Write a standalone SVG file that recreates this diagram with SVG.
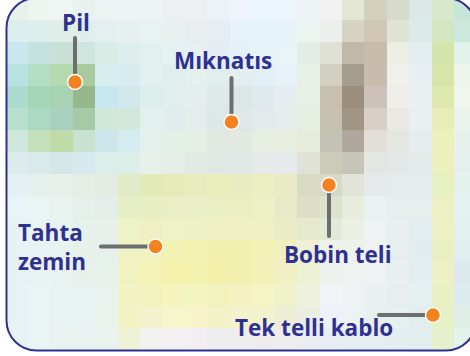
<svg xmlns="http://www.w3.org/2000/svg" width="470" height="356" viewBox="0 0 470 356">
<defs>
<clipPath id="frameClip"><rect x="6.5" y="-2" width="469.5" height="352.5" rx="30" ry="30"/></clipPath>
<style>
.lbl{font-family:"Open Sans","Liberation Sans",sans-serif;font-weight:700;font-size:22.5px;fill:#2e3192}
.lead{stroke:#6d6e70;stroke-width:4;stroke-linecap:round;fill:none}
.dot{fill:#f58220;stroke:#ffffff;stroke-width:1.5}
</style>
</defs>
<rect width="470" height="356" fill="#ffffff"/>
<g id="mosaic" clip-path="url(#frameClip)">
<g transform="translate(5.5,-2) scale(22.43,22)" shape-rendering="crispEdges">
<rect x="0" y="0" width="1" height="1" fill="#e6f2ea"/><rect x="1" y="0" width="1" height="1" fill="#ecf5f0"/><rect x="2" y="0" width="1" height="1" fill="#eef5f2"/><rect x="3" y="0" width="1" height="1" fill="#e8f3f0"/><rect x="4" y="0" width="1" height="1" fill="#ebf4f2"/><rect x="5" y="0" width="1" height="1" fill="#eef4f4"/><rect x="6" y="0" width="1" height="1" fill="#eef3f4"/><rect x="7" y="0" width="1" height="1" fill="#ecf0f2"/><rect x="8" y="0" width="1" height="1" fill="#eeeff2"/><rect x="9" y="0" width="1" height="1" fill="#ecf2f6"/><rect x="10" y="0" width="1" height="1" fill="#eef6fc"/><rect x="11" y="0" width="1" height="1" fill="#eaf6fc"/><rect x="12" y="0" width="1" height="1" fill="#ecf6fa"/><rect x="13" y="0" width="1" height="1" fill="#eef4f6"/><rect x="14" y="0" width="1" height="1" fill="#f2f2f2"/><rect x="15" y="0" width="1" height="1" fill="#e4e6d6"/><rect x="16" y="0" width="1" height="1" fill="#d4d0bc"/><rect x="17" y="0" width="1" height="1" fill="#d8dacc"/><rect x="18" y="0" width="1" height="1" fill="#dce8e6"/><rect x="19" y="0" width="1" height="1" fill="#d8e8cc"/><rect x="20" y="0" width="1" height="1" fill="#c8e6d8"/>
<rect x="0" y="1" width="1" height="1" fill="#dcefee"/><rect x="1" y="1" width="1" height="1" fill="#dcefec"/><rect x="2" y="1" width="1" height="1" fill="#e0eeea"/><rect x="3" y="1" width="1" height="1" fill="#e0eeeb"/><rect x="4" y="1" width="1" height="1" fill="#e4f0ee"/><rect x="5" y="1" width="1" height="1" fill="#e6f1ef"/><rect x="6" y="1" width="1" height="1" fill="#e8f2f0"/><rect x="7" y="1" width="1" height="1" fill="#e8f0f0"/><rect x="8" y="1" width="1" height="1" fill="#e8eef0"/><rect x="9" y="1" width="1" height="1" fill="#e6eef4"/><rect x="10" y="1" width="1" height="1" fill="#e6f4fa"/><rect x="11" y="1" width="1" height="1" fill="#e6f4fa"/><rect x="12" y="1" width="1" height="1" fill="#e6f4fa"/><rect x="13" y="1" width="1" height="1" fill="#ecf4f2"/><rect x="14" y="1" width="1" height="1" fill="#ecf0ec"/><rect x="15" y="1" width="1" height="1" fill="#d8d4c4"/><rect x="16" y="1" width="1" height="1" fill="#d0c8b4"/><rect x="17" y="1" width="1" height="1" fill="#e0e2d4"/><rect x="18" y="1" width="1" height="1" fill="#ddeaea"/><rect x="19" y="1" width="1" height="1" fill="#d4e6c0"/><rect x="20" y="1" width="1" height="1" fill="#cce8dc"/>
<rect x="0" y="2" width="1" height="1" fill="#cae6ee"/><rect x="1" y="2" width="1" height="1" fill="#c4e2e0"/><rect x="2" y="2" width="1" height="1" fill="#c8e0d6"/><rect x="3" y="2" width="1" height="1" fill="#cfe6df"/><rect x="4" y="2" width="1" height="1" fill="#d9ede6"/><rect x="5" y="2" width="1" height="1" fill="#dcefec"/><rect x="6" y="2" width="1" height="1" fill="#e2f0f0"/><rect x="7" y="2" width="1" height="1" fill="#e4f2f4"/><rect x="8" y="2" width="1" height="1" fill="#e6f0f2"/><rect x="9" y="2" width="1" height="1" fill="#e4eef2"/><rect x="10" y="2" width="1" height="1" fill="#e4f2f8"/><rect x="11" y="2" width="1" height="1" fill="#e6f4f8"/><rect x="12" y="2" width="1" height="1" fill="#e8f4f8"/><rect x="13" y="2" width="1" height="1" fill="#e4ece8"/><rect x="14" y="2" width="1" height="1" fill="#e0e0d6"/><rect x="15" y="2" width="1" height="1" fill="#c2b8a8"/><rect x="16" y="2" width="1" height="1" fill="#c8bcaa"/><rect x="17" y="2" width="1" height="1" fill="#eceee4"/><rect x="18" y="2" width="1" height="1" fill="#e4eef0"/><rect x="19" y="2" width="1" height="1" fill="#d4e4aa"/><rect x="20" y="2" width="1" height="1" fill="#e2f2ec"/>
<rect x="0" y="3" width="1" height="1" fill="#b8e2e0"/><rect x="1" y="3" width="1" height="1" fill="#b4ddc5"/><rect x="2" y="3" width="1" height="1" fill="#b5dab0"/><rect x="3" y="3" width="1" height="1" fill="#aacb9f"/><rect x="4" y="3" width="1" height="1" fill="#d6eeee"/><rect x="5" y="3" width="1" height="1" fill="#d6ecee"/><rect x="6" y="3" width="1" height="1" fill="#e2f0f0"/><rect x="7" y="3" width="1" height="1" fill="#e0eeee"/><rect x="8" y="3" width="1" height="1" fill="#e4f0ee"/><rect x="9" y="3" width="1" height="1" fill="#e0eeee"/><rect x="10" y="3" width="1" height="1" fill="#e4eef0"/><rect x="11" y="3" width="1" height="1" fill="#e2eff6"/><rect x="12" y="3" width="1" height="1" fill="#e6f2f8"/><rect x="13" y="3" width="1" height="1" fill="#e6f0e6"/><rect x="14" y="3" width="1" height="1" fill="#d2d0c0"/><rect x="15" y="3" width="1" height="1" fill="#a69e8c"/><rect x="16" y="3" width="1" height="1" fill="#c8bcac"/><rect x="17" y="3" width="1" height="1" fill="#f0f0ea"/><rect x="18" y="3" width="1" height="1" fill="#e8eef2"/><rect x="19" y="3" width="1" height="1" fill="#d8e4aa"/><rect x="20" y="3" width="1" height="1" fill="#ecf4ec"/>
<rect x="0" y="4" width="1" height="1" fill="#acdbcf"/><rect x="1" y="4" width="1" height="1" fill="#a6d6b8"/><rect x="2" y="4" width="1" height="1" fill="#a8d3b2"/><rect x="3" y="4" width="1" height="1" fill="#97b78d"/><rect x="4" y="4" width="1" height="1" fill="#c6e6f0"/><rect x="5" y="4" width="1" height="1" fill="#d0e8ec"/><rect x="6" y="4" width="1" height="1" fill="#dceeec"/><rect x="7" y="4" width="1" height="1" fill="#e0eeec"/><rect x="8" y="4" width="1" height="1" fill="#e4eeec"/><rect x="9" y="4" width="1" height="1" fill="#dfeae8"/><rect x="10" y="4" width="1" height="1" fill="#dce6e6"/><rect x="11" y="4" width="1" height="1" fill="#e0eaec"/><rect x="12" y="4" width="1" height="1" fill="#e4eef0"/><rect x="13" y="4" width="1" height="1" fill="#e6f0e4"/><rect x="14" y="4" width="1" height="1" fill="#c6c0ac"/><rect x="15" y="4" width="1" height="1" fill="#9c8e7c"/><rect x="16" y="4" width="1" height="1" fill="#ccc2ba"/><rect x="17" y="4" width="1" height="1" fill="#f0eeea"/><rect x="18" y="4" width="1" height="1" fill="#eaf0f2"/><rect x="19" y="4" width="1" height="1" fill="#dfe8ae"/><rect x="20" y="4" width="1" height="1" fill="#f0f6ec"/>
<rect x="0" y="5" width="1" height="1" fill="#b8e0cf"/><rect x="1" y="5" width="1" height="1" fill="#acd9c4"/><rect x="2" y="5" width="1" height="1" fill="#a9cfbf"/><rect x="3" y="5" width="1" height="1" fill="#a6c9a6"/><rect x="4" y="5" width="1" height="1" fill="#d0e8d8"/><rect x="5" y="5" width="1" height="1" fill="#d2e8dc"/><rect x="6" y="5" width="1" height="1" fill="#e2f0ee"/><rect x="7" y="5" width="1" height="1" fill="#e0ecec"/><rect x="8" y="5" width="1" height="1" fill="#e4ecec"/><rect x="9" y="5" width="1" height="1" fill="#dde8e6"/><rect x="10" y="5" width="1" height="1" fill="#dfe8e8"/><rect x="11" y="5" width="1" height="1" fill="#e4eaec"/><rect x="12" y="5" width="1" height="1" fill="#e4ecec"/><rect x="13" y="5" width="1" height="1" fill="#e6f0e2"/><rect x="14" y="5" width="1" height="1" fill="#c6c0ae"/><rect x="15" y="5" width="1" height="1" fill="#a09482"/><rect x="16" y="5" width="1" height="1" fill="#d8d0c6"/><rect x="17" y="5" width="1" height="1" fill="#eae8e4"/><rect x="18" y="5" width="1" height="1" fill="#eaf0f2"/><rect x="19" y="5" width="1" height="1" fill="#e8ecb8"/><rect x="20" y="5" width="1" height="1" fill="#eaf4ec"/>
<rect x="0" y="6" width="1" height="1" fill="#cfe8dc"/><rect x="1" y="6" width="1" height="1" fill="#c5e1bc"/><rect x="2" y="6" width="1" height="1" fill="#bfdca8"/><rect x="3" y="6" width="1" height="1" fill="#c8e2d0"/><rect x="4" y="6" width="1" height="1" fill="#cde6ec"/><rect x="5" y="6" width="1" height="1" fill="#d4ecef"/><rect x="6" y="6" width="1" height="1" fill="#e4f0ec"/><rect x="7" y="6" width="1" height="1" fill="#e2f0e6"/><rect x="8" y="6" width="1" height="1" fill="#e4eee2"/><rect x="9" y="6" width="1" height="1" fill="#e0e8e0"/><rect x="10" y="6" width="1" height="1" fill="#e2e8e2"/><rect x="11" y="6" width="1" height="1" fill="#e6eee2"/><rect x="12" y="6" width="1" height="1" fill="#e8eee0"/><rect x="13" y="6" width="1" height="1" fill="#e6ecdc"/><rect x="14" y="6" width="1" height="1" fill="#c4c2b4"/><rect x="15" y="6" width="1" height="1" fill="#b0a89c"/><rect x="16" y="6" width="1" height="1" fill="#e2dfd8"/><rect x="17" y="6" width="1" height="1" fill="#e4e6e0"/><rect x="18" y="6" width="1" height="1" fill="#e6eced"/><rect x="19" y="6" width="1" height="1" fill="#ecf0bc"/><rect x="20" y="6" width="1" height="1" fill="#e6f0ec"/>
<rect x="0" y="7" width="1" height="1" fill="#dcecec"/><rect x="1" y="7" width="1" height="1" fill="#d8eaea"/><rect x="2" y="7" width="1" height="1" fill="#d4e6e8"/><rect x="3" y="7" width="1" height="1" fill="#d6eaee"/><rect x="4" y="7" width="1" height="1" fill="#dceeea"/><rect x="5" y="7" width="1" height="1" fill="#dceee8"/><rect x="6" y="7" width="1" height="1" fill="#e6efe8"/><rect x="7" y="7" width="1" height="1" fill="#e6eee8"/><rect x="8" y="7" width="1" height="1" fill="#e2eae4"/><rect x="9" y="7" width="1" height="1" fill="#e2e8e4"/><rect x="10" y="7" width="1" height="1" fill="#e2e8e6"/><rect x="11" y="7" width="1" height="1" fill="#e6eaea"/><rect x="12" y="7" width="1" height="1" fill="#e6eaea"/><rect x="13" y="7" width="1" height="1" fill="#e0e2d8"/><rect x="14" y="7" width="1" height="1" fill="#cccab8"/><rect x="15" y="7" width="1" height="1" fill="#c8c4b8"/><rect x="16" y="7" width="1" height="1" fill="#e4e6e2"/><rect x="17" y="7" width="1" height="1" fill="#e4e8e6"/><rect x="18" y="7" width="1" height="1" fill="#e4eaea"/><rect x="19" y="7" width="1" height="1" fill="#ecf0bc"/><rect x="20" y="7" width="1" height="1" fill="#e4f0ee"/>
<rect x="0" y="8" width="1" height="1" fill="#e4f0f4"/><rect x="1" y="8" width="1" height="1" fill="#e4f0ec"/><rect x="2" y="8" width="1" height="1" fill="#e6f0e8"/><rect x="3" y="8" width="1" height="1" fill="#e4eee4"/><rect x="4" y="8" width="1" height="1" fill="#e2ece0"/><rect x="5" y="8" width="1" height="1" fill="#e2eac8"/><rect x="6" y="8" width="1" height="1" fill="#e2eab8"/><rect x="7" y="8" width="1" height="1" fill="#e4eab8"/><rect x="8" y="8" width="1" height="1" fill="#e6ecbc"/><rect x="9" y="8" width="1" height="1" fill="#e8eebc"/><rect x="10" y="8" width="1" height="1" fill="#e8ecc0"/><rect x="11" y="8" width="1" height="1" fill="#eaeec0"/><rect x="12" y="8" width="1" height="1" fill="#e8eac6"/><rect x="13" y="8" width="1" height="1" fill="#d8dac4"/><rect x="14" y="8" width="1" height="1" fill="#d8d8c8"/><rect x="15" y="8" width="1" height="1" fill="#e2e4da"/><rect x="16" y="8" width="1" height="1" fill="#e6eaea"/><rect x="17" y="8" width="1" height="1" fill="#e6ecee"/><rect x="18" y="8" width="1" height="1" fill="#e4ecee"/><rect x="19" y="8" width="1" height="1" fill="#e6f0c0"/><rect x="20" y="8" width="1" height="1" fill="#e4f2ee"/>
<rect x="0" y="9" width="1" height="1" fill="#e8f4f6"/><rect x="1" y="9" width="1" height="1" fill="#eaf4f4"/><rect x="2" y="9" width="1" height="1" fill="#e8f2ee"/><rect x="3" y="9" width="1" height="1" fill="#e6f0ea"/><rect x="4" y="9" width="1" height="1" fill="#e4eee8"/><rect x="5" y="9" width="1" height="1" fill="#e6eec8"/><rect x="6" y="9" width="1" height="1" fill="#e8eec4"/><rect x="7" y="9" width="1" height="1" fill="#eaeec4"/><rect x="8" y="9" width="1" height="1" fill="#eaeec8"/><rect x="9" y="9" width="1" height="1" fill="#eaeec4"/><rect x="10" y="9" width="1" height="1" fill="#eaeec0"/><rect x="11" y="9" width="1" height="1" fill="#ecf0c4"/><rect x="12" y="9" width="1" height="1" fill="#e6eac8"/><rect x="13" y="9" width="1" height="1" fill="#dcdec8"/><rect x="14" y="9" width="1" height="1" fill="#dee2cc"/><rect x="15" y="9" width="1" height="1" fill="#e8ecdc"/><rect x="16" y="9" width="1" height="1" fill="#ebf0f0"/><rect x="17" y="9" width="1" height="1" fill="#e8eeee"/><rect x="18" y="9" width="1" height="1" fill="#e6eeee"/><rect x="19" y="9" width="1" height="1" fill="#ecf0c4"/><rect x="20" y="9" width="1" height="1" fill="#e4f2f0"/>
<rect x="0" y="10" width="1" height="1" fill="#e6f2f4"/><rect x="1" y="10" width="1" height="1" fill="#eaf4f4"/><rect x="2" y="10" width="1" height="1" fill="#e8f2f0"/><rect x="3" y="10" width="1" height="1" fill="#e6f0ec"/><rect x="4" y="10" width="1" height="1" fill="#e8f0ea"/><rect x="5" y="10" width="1" height="1" fill="#eef2c8"/><rect x="6" y="10" width="1" height="1" fill="#eef0c4"/><rect x="7" y="10" width="1" height="1" fill="#eef2c6"/><rect x="8" y="10" width="1" height="1" fill="#eef0c6"/><rect x="9" y="10" width="1" height="1" fill="#eef0c4"/><rect x="10" y="10" width="1" height="1" fill="#eef0c2"/><rect x="11" y="10" width="1" height="1" fill="#eef0c4"/><rect x="12" y="10" width="1" height="1" fill="#eaecc8"/><rect x="13" y="10" width="1" height="1" fill="#e6eacc"/><rect x="14" y="10" width="1" height="1" fill="#e4ead8"/><rect x="15" y="10" width="1" height="1" fill="#ecf0e4"/><rect x="16" y="10" width="1" height="1" fill="#eef2f2"/><rect x="17" y="10" width="1" height="1" fill="#e8eff0"/><rect x="18" y="10" width="1" height="1" fill="#e4eef0"/><rect x="19" y="10" width="1" height="1" fill="#ecf0c4"/><rect x="20" y="10" width="1" height="1" fill="#e2f0f0"/>
<rect x="0" y="11" width="1" height="1" fill="#e6f2f4"/><rect x="1" y="11" width="1" height="1" fill="#e8f2f2"/><rect x="2" y="11" width="1" height="1" fill="#e8f2f0"/><rect x="3" y="11" width="1" height="1" fill="#e8f0ea"/><rect x="4" y="11" width="1" height="1" fill="#e6f0ec"/><rect x="5" y="11" width="1" height="1" fill="#f0f2c4"/><rect x="6" y="11" width="1" height="1" fill="#f0f2c0"/><rect x="7" y="11" width="1" height="1" fill="#f2f2b4"/><rect x="8" y="11" width="1" height="1" fill="#f2f2b2"/><rect x="9" y="11" width="1" height="1" fill="#f2f0ae"/><rect x="10" y="11" width="1" height="1" fill="#f2f0ae"/><rect x="11" y="11" width="1" height="1" fill="#f2f2b6"/><rect x="12" y="11" width="1" height="1" fill="#eef0c0"/><rect x="13" y="11" width="1" height="1" fill="#eef0d4"/><rect x="14" y="11" width="1" height="1" fill="#eef2e8"/><rect x="15" y="11" width="1" height="1" fill="#eef2ec"/><rect x="16" y="11" width="1" height="1" fill="#eef2f2"/><rect x="17" y="11" width="1" height="1" fill="#e6eeee"/><rect x="18" y="11" width="1" height="1" fill="#e2ecee"/><rect x="19" y="11" width="1" height="1" fill="#eaf0c4"/><rect x="20" y="11" width="1" height="1" fill="#e0eef0"/>
<rect x="0" y="12" width="1" height="1" fill="#e6f2f4"/><rect x="1" y="12" width="1" height="1" fill="#e8f2f2"/><rect x="2" y="12" width="1" height="1" fill="#e8f2f0"/><rect x="3" y="12" width="1" height="1" fill="#e8f0ec"/><rect x="4" y="12" width="1" height="1" fill="#e8f2ec"/><rect x="5" y="12" width="1" height="1" fill="#f2f2c0"/><rect x="6" y="12" width="1" height="1" fill="#f4f2b4"/><rect x="7" y="12" width="1" height="1" fill="#f4f2ac"/><rect x="8" y="12" width="1" height="1" fill="#f2f2ae"/><rect x="9" y="12" width="1" height="1" fill="#f2f0aa"/><rect x="10" y="12" width="1" height="1" fill="#f2f0ae"/><rect x="11" y="12" width="1" height="1" fill="#f2f2b8"/><rect x="12" y="12" width="1" height="1" fill="#f0f0c4"/><rect x="13" y="12" width="1" height="1" fill="#eef2d4"/><rect x="14" y="12" width="1" height="1" fill="#eef2ee"/><rect x="15" y="12" width="1" height="1" fill="#eef2f0"/><rect x="16" y="12" width="1" height="1" fill="#eef2f2"/><rect x="17" y="12" width="1" height="1" fill="#e8eff0"/><rect x="18" y="12" width="1" height="1" fill="#e4edef"/><rect x="19" y="12" width="1" height="1" fill="#ecf0c4"/><rect x="20" y="12" width="1" height="1" fill="#dceaee"/>
<rect x="0" y="13" width="1" height="1" fill="#e6f2f4"/><rect x="1" y="13" width="1" height="1" fill="#eaf4f4"/><rect x="2" y="13" width="1" height="1" fill="#e8f2f0"/><rect x="3" y="13" width="1" height="1" fill="#e8f2f0"/><rect x="4" y="13" width="1" height="1" fill="#eaf2ee"/><rect x="5" y="13" width="1" height="1" fill="#f2f2c4"/><rect x="6" y="13" width="1" height="1" fill="#f2f2bc"/><rect x="7" y="13" width="1" height="1" fill="#f4f4bc"/><rect x="8" y="13" width="1" height="1" fill="#f4f4c0"/><rect x="9" y="13" width="1" height="1" fill="#f2f2bc"/><rect x="10" y="13" width="1" height="1" fill="#f4f2c0"/><rect x="11" y="13" width="1" height="1" fill="#f4f4c4"/><rect x="12" y="13" width="1" height="1" fill="#f0f2cc"/><rect x="13" y="13" width="1" height="1" fill="#eef2dc"/><rect x="14" y="13" width="1" height="1" fill="#f0f4f6"/><rect x="15" y="13" width="1" height="1" fill="#eef2f4"/><rect x="16" y="13" width="1" height="1" fill="#e8f0f0"/><rect x="17" y="13" width="1" height="1" fill="#e6eeee"/><rect x="18" y="13" width="1" height="1" fill="#e6f0f0"/><rect x="19" y="13" width="1" height="1" fill="#e8f0c4"/><rect x="20" y="13" width="1" height="1" fill="#dcecee"/>
<rect x="0" y="14" width="1" height="1" fill="#e6f2f4"/><rect x="1" y="14" width="1" height="1" fill="#eaf4f4"/><rect x="2" y="14" width="1" height="1" fill="#e8f2f0"/><rect x="3" y="14" width="1" height="1" fill="#e8f2f0"/><rect x="4" y="14" width="1" height="1" fill="#eaf2ec"/><rect x="5" y="14" width="1" height="1" fill="#f2f2c4"/><rect x="6" y="14" width="1" height="1" fill="#f4f2cc"/><rect x="7" y="14" width="1" height="1" fill="#f6f6cc"/><rect x="8" y="14" width="1" height="1" fill="#f6f4c8"/><rect x="9" y="14" width="1" height="1" fill="#f2f2c6"/><rect x="10" y="14" width="1" height="1" fill="#f2f2cc"/><rect x="11" y="14" width="1" height="1" fill="#f2f2cc"/><rect x="12" y="14" width="1" height="1" fill="#eeeed6"/><rect x="13" y="14" width="1" height="1" fill="#eaeee2"/><rect x="14" y="14" width="1" height="1" fill="#eef2f8"/><rect x="15" y="14" width="1" height="1" fill="#eef2f4"/><rect x="16" y="14" width="1" height="1" fill="#e8f0ee"/><rect x="17" y="14" width="1" height="1" fill="#e6f0ee"/><rect x="18" y="14" width="1" height="1" fill="#e2eeee"/><rect x="19" y="14" width="1" height="1" fill="#e8f0c8"/><rect x="20" y="14" width="1" height="1" fill="#e0eee8"/>
<rect x="0" y="15" width="1" height="1" fill="#e8f2f4"/><rect x="1" y="15" width="1" height="1" fill="#eaf4f4"/><rect x="2" y="15" width="1" height="1" fill="#eaf2f0"/><rect x="3" y="15" width="1" height="1" fill="#eaf2f0"/><rect x="4" y="15" width="1" height="1" fill="#eaf2ee"/><rect x="5" y="15" width="1" height="1" fill="#eef2d6"/><rect x="6" y="15" width="1" height="1" fill="#f2f2ee"/><rect x="7" y="15" width="1" height="1" fill="#f2f0f0"/><rect x="8" y="15" width="1" height="1" fill="#f2eef2"/><rect x="9" y="15" width="1" height="1" fill="#eeeeee"/><rect x="10" y="15" width="1" height="1" fill="#efeeee"/><rect x="11" y="15" width="1" height="1" fill="#eeecec"/><rect x="12" y="15" width="1" height="1" fill="#eeeeee"/><rect x="13" y="15" width="1" height="1" fill="#eaeef2"/><rect x="14" y="15" width="1" height="1" fill="#e8eef4"/><rect x="15" y="15" width="1" height="1" fill="#e6eef2"/><rect x="16" y="15" width="1" height="1" fill="#e6eef0"/><rect x="17" y="15" width="1" height="1" fill="#e4eef0"/><rect x="18" y="15" width="1" height="1" fill="#e2eeee"/><rect x="19" y="15" width="1" height="1" fill="#e6f0cc"/><rect x="20" y="15" width="1" height="1" fill="#e4f2ec"/>
</g>
</g>
<rect id="frame" x="6.5" y="-2" width="469.5" height="352.5" rx="30" ry="30" fill="none" stroke="#2e3192" stroke-width="2"/>
<g id="connectors">
<line class="lead" x1="75" y1="38" x2="75" y2="82"/>
<line class="lead" x1="231.5" y1="78" x2="231.5" y2="122"/>
<line class="lead" x1="329" y1="185" x2="329" y2="236"/>
<line class="lead" x1="101" y1="246.5" x2="155" y2="246.5"/>
<line class="lead" x1="379" y1="315" x2="433" y2="315"/>
<circle class="dot" cx="75" cy="82" r="7.5"/>
<circle class="dot" cx="231.5" cy="122" r="7.5"/>
<circle class="dot" cx="329" cy="185" r="7.5"/>
<circle class="dot" cx="155.5" cy="246.5" r="7.5"/>
<circle class="dot" cx="433" cy="315" r="7.5"/>
</g>
<g id="pil"><text class="lbl" x="62" y="31">Pil</text></g>
<g id="miknatis"><text class="lbl" x="174" y="69">Mıknatıs</text></g>
<g id="bobin-teli"><text class="lbl" x="284" y="263">Bobin teli</text></g>
<g id="tahta-zemin"><text class="lbl" x="18" y="241">Tahta</text><text class="lbl" x="18" y="270">zemin</text></g>
<g id="tek-telli-kablo"><text class="lbl" x="235" y="336">Tek telli kablo</text></g>
</svg>
